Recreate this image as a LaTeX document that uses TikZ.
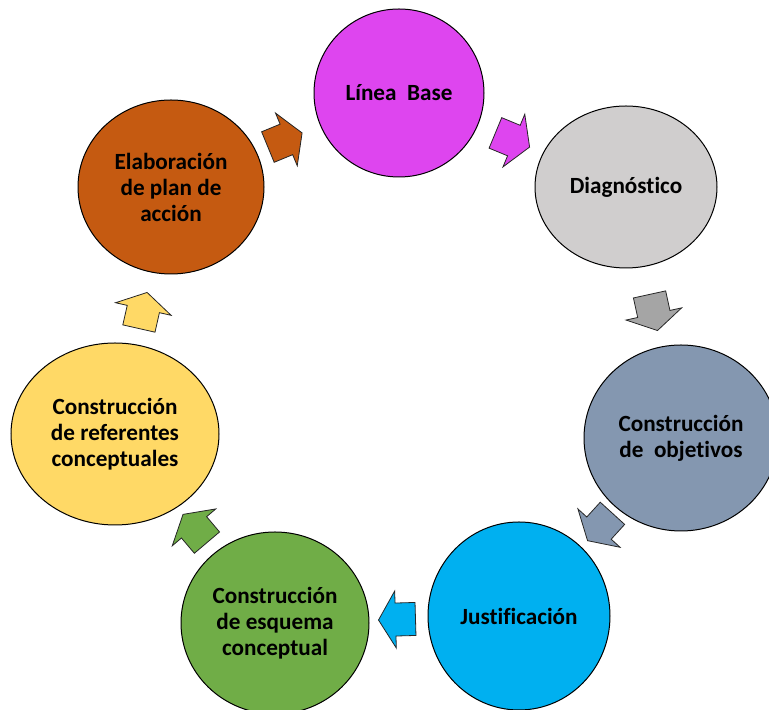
\documentclass[tikz,border=0pt]{standalone}
\usepackage{fontspec}
\setmainfont{Carlito}[Ligatures=CommonOff]
\usetikzlibrary{shapes.geometric,calc}
\definecolor{cLB}{HTML}{DE45EF}
\definecolor{cDiag}{HTML}{D0CECE}
\definecolor{cDiagA}{HTML}{A5A5A5}
\definecolor{cObj}{HTML}{8497B0}
\definecolor{cJust}{HTML}{00B0F0}
\definecolor{cEsq}{HTML}{70AD47}
\definecolor{cRef}{HTML}{FFD966}
\definecolor{cElab}{HTML}{C55A11}
\newcommand\flowarrow[3]{\path let \p1=(#1), \p2=(#2), \n1={atan2(\y2-\y1,\x2-\x1)} in pic[rotate=\n1, fill=#3, flow] at ($(#1)!0.5!(#2)$) {blockarrow};}
\begin{document}
\begin{tikzpicture}[x=0.75pt,y=0.75pt,
  stage/.style={ellipse, draw=black, line width=0.75pt, inner sep=0pt, align=center,
    font=\fontsize{17.4}{19.5}\selectfont\bfseries, text=black},
  blockarrow/.pic={\path[pic actions] (-18.5,-16.5) -- (1.5,-16.5) -- (1.5,-28.5) -- (18.5,0)
     -- (1.5,28.5) -- (1.5,16.5) -- (-18.5,16.5) -- cycle;},
  flow/.style={draw=black!85, line width=0.6pt, line join=miter}
]
\useasboundingbox (0,0) rectangle (769,710);
\clip (0,0) rectangle (769,710);
\node[stage, fill=cLB, minimum width=127.5pt, minimum height=126pt] (lb) at (399,617) {Línea~~Base};
\node[stage, fill=cDiag, minimum width=136.5pt, minimum height=121.5pt] (diag) at (626,523) {Diagnóstico};
\node[stage, fill=cObj, minimum width=145.5pt, minimum height=139.5pt] (obj) at (681,272) {Construcción\\de~~objetivos};
\node[stage, fill=cJust, minimum width=136.5pt, minimum height=141pt] (just) at (519,94) {Justificación};
\node[stage, fill=cEsq, minimum width=141pt, minimum height=136.5pt] (esq) at (275,87) {Construcción\\de esquema\\conceptual};
\node[stage, fill=cRef, minimum width=156pt, minimum height=136.5pt] (ref) at (115,276) {Construcción\\de referentes\\conceptuales};
\node[stage, fill=cElab, minimum width=139.5pt, minimum height=130.5pt] (elab) at (171,523) {Elaboración\\de plan de\\acción};
\flowarrow{elab.center}{lb.center}{cElab}
\flowarrow{lb.center}{diag.center}{cLB}
\flowarrow{diag.center}{obj.center}{cDiagA}
\flowarrow{obj.center}{just.center}{cObj}
\flowarrow{just.center}{esq.center}{cJust}
\flowarrow{esq.center}{ref.center}{cEsq}
\flowarrow{ref.center}{elab.center}{cRef}
\end{tikzpicture}
\end{document}
